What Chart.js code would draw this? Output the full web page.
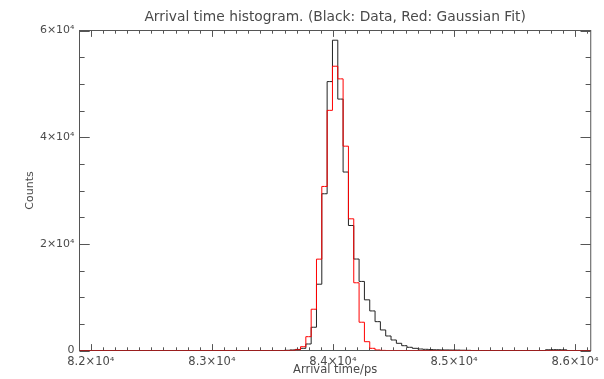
<!DOCTYPE html>
<html>
<head>
<meta charset="utf-8">
<script src="https://cdn.jsdelivr.net/npm/chart.js@4/dist/chart.umd.min.js"></script>
<style>
  html, body { margin: 0; padding: 0; background: #ffffff; }
  #wrap { width: 604px; height: 379px; }
</style>
</head>
<body>
<div id="wrap"><canvas id="c" width="604" height="379"></canvas></div>
<script>
// Histogram binning (ps)
const firstBinCentre = 81906;
const binWidth = 44;

// Measured counts per bin (black trace)
const dataCounts = [
  0, 0, 0, 0, 0, 0, 0, 0, 0, 0,
  0, 0, 0, 0, 0, 0, 0, 0, 0, 0,
  0, 0, 0, 0, 0, 0, 0, 0, 0, 0,
  0, 0, 0, 0, 0, 0, 0, 0, 0, 40,
  100, 200, 410, 1220, 4360, 12430, 29390, 50420, 58180, 47140,
  33460, 23440, 17150, 12950, 9500, 7420, 5410, 3850, 2720, 1970,
  1350, 900, 600, 410, 280, 220, 170, 140, 120, 100,
  90, 80, 50, 30, 0, 0, 0, 0, 0, 0,
  0, 0, 0, 0, 0, 0, 0, 0, 140, 160,
  150, 130, 0, 0, 0, 0, 0
];

// Gaussian fit evaluated per bin (red trace)
const fitCounts = [
  0, 0, 0, 0, 0, 0, 0, 0, 0, 0,
  0, 0, 0, 0, 0, 0, 0, 0, 0, 0,
  0, 0, 0, 0, 0, 0, 0, 0, 0, 0,
  0, 0, 0, 0, 0, 0, 0, 0, 0, 0,
  20, 130, 710, 2590, 7740, 17130, 30760, 45030, 53300, 50930,
  38310, 24690, 12700, 5300, 1650, 410, 100, 20, 0, 0,
  0, 0, 0, 0, 0, 0, 0, 0, 0, 0,
  0, 0, 0, 0, 0, 0, 0, 0, 0, 0,
  0, 0, 0, 0, 0, 0, 0, 0, 0, 0,
  0, 0, 0, 0, 0, 0, 0
];

const binCentres = dataCounts.map((_, k) => firstBinCentre + binWidth * k);

// Axis ranges and labelled ticks
const xRange = [81906, 86130];
const yRange = [0, 60000];
const xTickValues = [82000, 83000, 84000, 85000, 86000];
const yTickValues = [0, 20000, 40000, 60000];
const xMinorStep = 100;
const yMinorStep = 5000;

const textColor = '#4a4a4a';
const axisColor = '#555555';
const fontFamily = '"DejaVu Sans", "Liberation Sans", sans-serif';

function powerLabel(v) {
  if (v === 0) return '0';
  const exp = Math.floor(Math.log10(Math.abs(v)) + 1e-9);
  const mant = +(v / Math.pow(10, exp)).toFixed(1);
  return mant + '\u00d710' + (exp === 4 ? '\u2074' : String(exp));
}

function toPoints(values) {
  return values.map((c, k) => ({ x: binCentres[k], y: c }));
}

// Plot frame with inward tick marks on all four sides
const frameAndTicks = {
  id: 'frameAndTicks',
  beforeDatasetsDraw(chart) {
    const { ctx, chartArea: a, scales: { x, y } } = chart;
    const w = a.right - a.left, h = a.bottom - a.top;
    const xLen = 0.02 * h, yLen = 0.02 * w;
    ctx.save();
    ctx.strokeStyle = axisColor;
    ctx.lineWidth = 1;
    ctx.strokeRect(a.left, a.top, w, h);
    ctx.beginPath();
    for (let v = Math.ceil(x.min / xMinorStep) * xMinorStep; v <= x.max; v += xMinorStep) {
      const px = Math.round(x.getPixelForValue(v)) + 0.5;
      const len = xTickValues.includes(v) ? xLen : xLen / 2;
      ctx.moveTo(px, a.bottom); ctx.lineTo(px, a.bottom - len);
      ctx.moveTo(px, a.top); ctx.lineTo(px, a.top + len);
    }
    for (let v = yRange[0]; v <= yRange[1]; v += yMinorStep) {
      const py = Math.round(y.getPixelForValue(v)) + 0.5;
      const len = yTickValues.includes(v) ? yLen : yLen / 2;
      ctx.moveTo(a.left, py); ctx.lineTo(a.left + len, py);
      ctx.moveTo(a.right, py); ctx.lineTo(a.right - len, py);
    }
    ctx.stroke();
    ctx.restore();
  }
};

new Chart(document.getElementById('c'), {
  type: 'line',
  data: {
    datasets: [
      {
        label: 'Gaussian Fit',
        data: toPoints(fitCounts),
        borderColor: '#ff0000',
        borderWidth: 1,
        stepped: 'middle',
        pointRadius: 0,
        fill: false
      },
      {
        label: 'Data',
        data: toPoints(dataCounts),
        borderColor: '#222222',
        borderWidth: 1,
        stepped: 'middle',
        pointRadius: 0,
        fill: false
      }
    ]
  },
  options: {
    responsive: false,
    devicePixelRatio: 1,
    animation: false,
    layout: { padding: { left: 0, right: 8.5, top: 0, bottom: 0 } },
    plugins: {
      legend: { display: false },
      tooltip: { enabled: false },
      title: {
        display: true,
        fullSize: false,
        text: 'Arrival time histogram. (Black: Data, Red: Gaussian Fit)',
        color: textColor,
        font: { family: fontFamily, size: 13.8, weight: 'normal' },
        padding: { top: 9, bottom: 4.94 }
      }
    },
    scales: {
      x: {
        type: 'linear',
        min: xRange[0],
        max: xRange[1],
        afterBuildTicks: (s) => { s.ticks = xTickValues.map(v => ({ value: v })); },
        afterFit: (s) => { s.height = 28.5; },
        grid: { display: false, drawTicks: false },
        border: { display: false },
        ticks: {
          autoSkip: false,
          maxRotation: 0,
          padding: 5,
          color: textColor,
          font: { family: fontFamily, size: 11.5 },
          callback: (v) => powerLabel(v)
        },
        title: {
          display: true,
          text: 'Arrival time/ps',
          color: textColor,
          font: { family: fontFamily, size: 11.5 },
          padding: { top: 0, bottom: 2.2 }
        }
      },
      y: {
        type: 'linear',
        min: yRange[0],
        max: yRange[1],
        afterBuildTicks: (s) => { s.ticks = yTickValues.map(v => ({ value: v })); },
        afterFit: (s) => { s.width = 79.5; },
        grid: { display: false, drawTicks: false },
        border: { display: false },
        ticks: {
          padding: 5,
          color: textColor,
          font: { family: fontFamily, size: 11 },
          callback: (v) => powerLabel(v)
        },
        title: {
          display: true,
          text: 'Counts',
          color: textColor,
          font: { family: fontFamily, size: 11 },
          padding: { top: 23.4, bottom: 0 }
        }
      }
    }
  },
  plugins: [frameAndTicks]
});
</script>
</body>
</html>
